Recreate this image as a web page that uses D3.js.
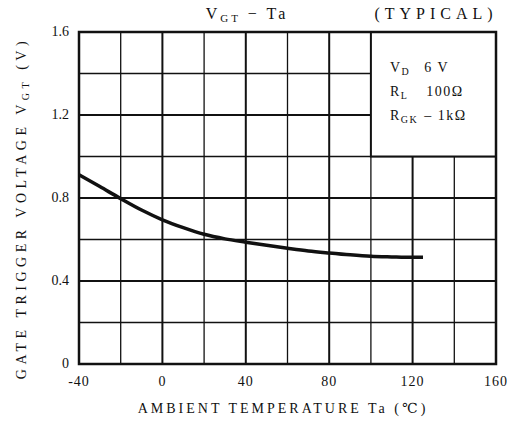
<!DOCTYPE html>
<html>
<head>
<meta charset="utf-8">
<script src="https://cdn.jsdelivr.net/npm/d3@7"></script>
<style>
body { margin: 0; background: #fff; }
svg text { font-family: "Liberation Serif", "DejaVu Serif", serif; fill: #111; }
</style>
</head>
<body>
<div id="chart"></div>
<script>
// data
var tempC = [-40, -30, -20, -10, 0, 10, 20, 30, 40, 50, 60, 70, 80, 90, 100, 110, 120, 125];
var vgt   = [0.912, 0.855, 0.797, 0.742, 0.695, 0.657, 0.625, 0.603, 0.587, 0.572, 0.558, 0.545, 0.535, 0.526, 0.519, 0.516, 0.514, 0.514];
var xTicks = [-40, 0, 40, 80, 120, 160];
var yTicks = [0, 0.4, 0.8, 1.2, 1.6];
var xGrid = d3.range(-40, 161, 20);
var yGrid = [0, 0.2, 0.4, 0.6, 0.8, 1.0, 1.2, 1.4, 1.6];

var W = 507, H = 421;
var margin = {top: 32, right: 11, bottom: 57, left: 79};
var width = W - margin.left - margin.right,
    height = H - margin.top - margin.bottom;

var svg = d3.select("#chart").append("svg")
  .attr("width", W).attr("height", H);
var g = svg.append("g")
  .attr("transform", "translate(" + margin.left + "," + margin.top + ")");

var x = d3.scaleLinear().domain([-40, 160]).range([0, width]);
var y = d3.scaleLinear().domain([0, 1.6]).range([height, 0]);

// grid
g.selectAll(".vg").data(xGrid).enter().append("line")
  .attr("x1", d => x(d)).attr("x2", d => x(d))
  .attr("y1", 0).attr("y2", height)
  .attr("stroke", "#111")
  .attr("stroke-width", d => (d % 40 == 0) ? 2 : 1.3);
g.selectAll(".hg").data(yGrid).enter().append("line")
  .attr("y1", d => y(d)).attr("y2", d => y(d))
  .attr("x1", 0).attr("x2", width)
  .attr("stroke", "#111")
  .attr("stroke-width", d => (Math.round(d * 10) % 4 == 0) ? 2 : 1.3);

// legend box covers the grid in the top right corner
g.append("rect")
  .attr("x", x(100)).attr("y", y(1.6))
  .attr("width", x(160) - x(100)).attr("height", y(1.0) - y(1.6))
  .attr("fill", "#fff").attr("stroke", "#111").attr("stroke-width", 2);

// border
g.append("rect").attr("width", width).attr("height", height)
  .attr("fill", "none").attr("stroke", "#111").attr("stroke-width", 2.5);

// curve
var line = d3.line().x((d, i) => x(tempC[i])).y(d => y(d)).curve(d3.curveMonotoneX);
g.append("path").datum(vgt).attr("d", line)
  .attr("fill", "none").attr("stroke", "#111").attr("stroke-width", 3.5);

// axes labels
g.selectAll(".xt").data(xTicks).enter().append("text")
  .attr("x", d => x(d)).attr("y", height + 22)
  .attr("text-anchor", "middle").style("font-size", "14px").style("letter-spacing", "1px")
  .text(d => d);
g.selectAll(".yt").data(yTicks).enter().append("text")
  .attr("x", -10).attr("y", d => y(d) + 4)
  .attr("text-anchor", "end").style("font-size", "14px")
  .text(d => d == 0 ? "0" : d.toFixed(1));

// title
svg.append("text").attr("x", 247).attr("y", 19).attr("text-anchor", "middle")
  .style("font-size", "16px").style("letter-spacing", "3px")
  .html('V<tspan font-size="11px" dy="3">GT</tspan><tspan dy="-3"> \u2212 Ta</tspan>');
svg.append("text").attr("x", 436).attr("y", 19).attr("text-anchor", "middle")
  .style("font-size", "16px").style("letter-spacing", "5px")
  .text("(TYPICAL)");

// legend text
var leg = g.append("g").attr("transform", "translate(" + (x(100) + 19) + ",0)")
  .style("letter-spacing", "1.5px");
leg.append("text").attr("y", 40).style("font-size", "14px")
  .html('V<tspan font-size="10px" dy="3">D</tspan><tspan dy="-3" dx="14">6 V</tspan>');
leg.append("text").attr("y", 64).style("font-size", "14px")
  .html('R<tspan font-size="10px" dy="3">L</tspan><tspan dy="-3" dx="18">100\u03a9</tspan>');
leg.append("text").attr("y", 88).style("font-size", "14px")
  .html('R<tspan font-size="10px" dy="3">GK</tspan><tspan dy="-3" dx="6">\u2013 1k\u03a9</tspan>');

// x axis title
svg.append("text").attr("x", 283).attr("y", 413).attr("text-anchor", "middle")
  .style("font-size", "14px").style("letter-spacing", "3px")
  .text("AMBIENT TEMPERATURE  Ta (\u2103)");

// y axis title
svg.append("text").attr("transform", "translate(26,208) rotate(-90)")
  .attr("text-anchor", "middle").style("font-size", "14px").style("letter-spacing", "4.5px")
  .html('GATE TRIGGER VOLTAGE  V<tspan font-size="10px" dy="3">GT</tspan><tspan dy="-3"> (V)</tspan>');
</script>
</body>
</html>
